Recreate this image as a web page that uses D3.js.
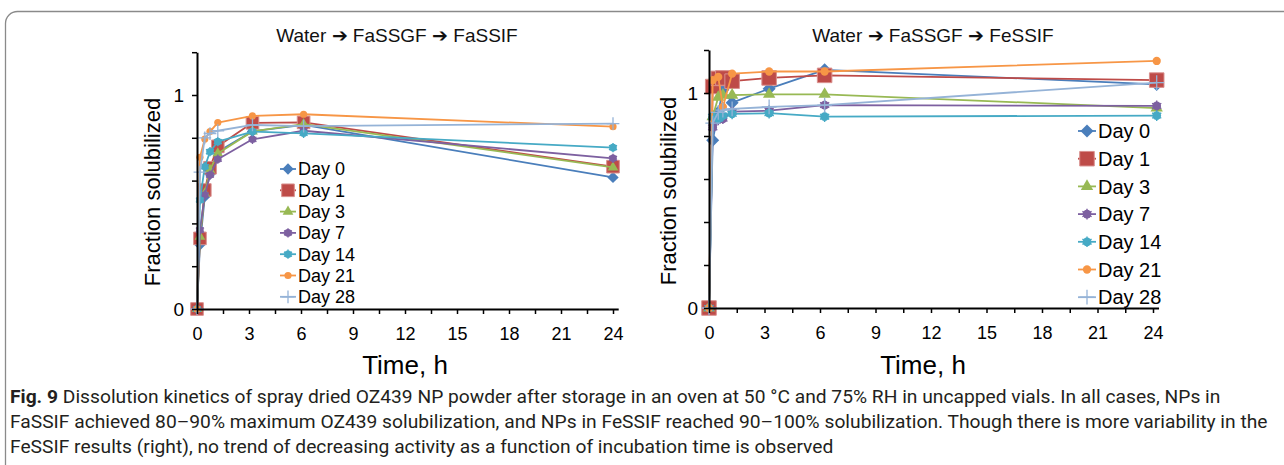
<!DOCTYPE html>
<html>
<head>
<meta charset="utf-8">
<script src="https://cdn.jsdelivr.net/npm/d3@7"></script>
<style>
  body { margin: 0; background: #fff; }
  svg { display: block; }
</style>
</head>
<body>
<div id="wrapper"></div>
<script>
// data
const dayLabels = ["Day 0", "Day 1", "Day 3", "Day 7", "Day 14", "Day 21", "Day 28"]

// sampling times (h) for each panel
const fassifTimes = [0, 0.17, 0.45, 0.75, 1.2, 3.2, 6.15, 24]
const fessifTimes = [0, 0.2, 0.5, 0.75, 1.25, 3.25, 6.25, 24.2]

// fraction solubilized, one row per day (same order as dayLabels)
const fassifValues = [
  [0, 0.30, 0.525, 0.63, 0.735, 0.83, 0.86, 0.615],
  [0, 0.33, 0.556, 0.66, 0.76, 0.87, 0.872, 0.665],
  [0, 0.338, 0.54, 0.65, 0.727, 0.83, 0.864, 0.662],
  [0, 0.369, 0.533, 0.626, 0.70, 0.793, 0.833, 0.704],
  [0, 0.509, 0.665, 0.735, 0.782, 0.829, 0.821, 0.754],
  [0, 0.709, 0.794, 0.829, 0.871, 0.902, 0.91, 0.852],
  [0, 0.64, 0.80, 0.82, 0.833, 0.86, 0.855, 0.866],
]
const fessifValues = [
  [0, 0.78, 0.91, 1.015, 0.955, 1.02, 1.108, 1.04],
  [0, 1.03, 1.068, 1.07, 1.055, 1.07, 1.082, 1.06],
  [0, 0.89, 0.98, 0.99, 0.99, 0.994, 0.994, 0.93],
  [0, 0.84, 0.875, 0.88, 0.913, 0.918, 0.944, 0.94],
  [0, 0.89, 0.88, 0.895, 0.903, 0.906, 0.89, 0.895],
  [0, 1.06, 1.075, 0.935, 1.09, 1.10, 1.10, 1.149],
  [0, 0.86, 0.91, 0.92, 0.926, 0.935, 0.944, 1.048],
]

const xTickValues = d3.range(0, 24.01, 1.5)
const yTickValues = d3.range(0, 7).map(i => i * 0.2)

const panelTitles = ["Water \u2794 FaSSGF \u2794 FaSSIF", "Water \u2794 FaSSGF \u2794 FeSSIF"]
const xTitle = "Time, h"
const yTitle = "Fraction solubilized"

const captionBold = "Fig. 9"
const captionLines = [
  "Dissolution kinetics of spray dried OZ439 NP powder after storage in an oven at 50 \u00b0C and 75% RH in uncapped vials. In all cases, NPs in",
  "FaSSIF achieved 80\u201390% maximum OZ439 solubilization, and NPs in FeSSIF reached 90\u2013100% solubilization. Though there is more variability in the",
  "FeSSIF results (right), no trend of decreasing activity as a function of incubation time is observed",
]

// styles
const colors = ["#4a7ebb", "#be4b48", "#98b954", "#7d60a0", "#46aac5", "#f79646", "#95b3d7"]
const shapes = ["diamond", "square", "triangle", "starCircle", "starCircle", "circle", "plus"]
const chartFont = "'Liberation Sans', Arial, sans-serif"

const width = 1284
const height = 465

const svg = d3.select("#wrapper")
  .append("svg")
    .attr("width", width)
    .attr("height", height)

// framing box (runs off the right/bottom edge)
svg.append("rect")
  .attr("x", 5.5).attr("y", 11.5)
  .attr("width", 1400).attr("height", 600)
  .attr("rx", 12)
  .attr("fill", "none")
  .attr("stroke", "#8a8a8a")
  .attr("stroke-width", 1.3)

function drawMarker(g, shape, k, color) {
  if (shape === "diamond") {
    g.append("path")
      .attr("d", d3.symbol(d3.symbolSquare, 64 * k * k)())
      .attr("transform", "rotate(45)")
      .attr("fill", color)
  } else if (shape === "square") {
    g.append("path")
      .attr("d", d3.symbol(d3.symbolSquare, 160 * k * k)())
      .attr("fill", color)
      .attr("stroke", "#d9908e")
      .attr("stroke-width", 1)
  } else if (shape === "triangle") {
    g.append("path")
      .attr("d", d3.symbol(d3.symbolTriangle, 50 * k * k)())
      .attr("fill", color)
  } else if (shape === "starCircle") {
    g.append("circle").attr("r", 3.8 * k).attr("fill", color)
    g.append("path")
      .attr("d", d3.symbol(d3.symbolAsterisk, 60 * k * k)())
      .attr("fill", "none")
      .attr("stroke", color)
      .attr("stroke-width", 1.4)
  } else if (shape === "circle") {
    g.append("circle").attr("r", 3.6 * k).attr("fill", color)
  } else if (shape === "plus") {
    g.append("path")
      .attr("d", d3.symbol(d3.symbolPlus, 55 * k * k)())
      .attr("fill", "none")
      .attr("stroke", color)
      .attr("stroke-width", 1.3)
  }
}

function drawPanel(p) {
  const xScale = d3.scaleLinear()
    .domain([0, 24.3])
    .range([p.left, p.left + p.perHour * 24.3])
  const yScale = d3.scaleLinear()
    .domain([0, 1.2])
    .range([p.bottom, p.bottom - p.perUnit * 1.2])

  const bounds = svg.append("g")

  // series lines then markers, in day order
  const lineGen = d3.line()
    .x((d, i) => xScale(p.times[i]))
    .y(d => yScale(d))

  p.values.forEach((row, s) => {
    bounds.append("path")
      .attr("d", lineGen(row))
      .attr("fill", "none")
      .attr("stroke", colors[s])
      .attr("stroke-width", 1.8)
      .attr("stroke-linejoin", "round")
    row.forEach((v, i) => {
      const m = bounds.append("g")
        .attr("transform", `translate(${xScale(p.times[i])},${yScale(v)})`)
      drawMarker(m, shapes[s], p.markerK, colors[s])
    })
  })

  // axes
  const xAxisGenerator = d3.axisBottom(xScale)
    .tickValues(xTickValues)
    .tickSizeInner(5)
    .tickSizeOuter(0)
    .tickPadding(13)
    .tickFormat(d => d % 3 === 0 ? d : "")
  const xAxis = bounds.append("g")
    .attr("transform", `translate(0,${p.bottom})`)
    .call(xAxisGenerator)
    .attr("font-size", 18)
    .attr("font-family", chartFont)
    .style("color", "#000")
  xAxis.select(".domain").attr("stroke-width", 2)
  xAxis.selectAll(".tick line").attr("stroke-width", 1.5)

  const yAxisGenerator = d3.axisLeft(yScale)
    .tickValues(yTickValues)
    .tickSizeInner(5)
    .tickSizeOuter(0)
    .tickPadding(p.yPad)
    .tickFormat(d => Math.abs(d) < 1e-9 ? "0" : Math.abs(d - 1) < 1e-9 ? "1" : "")
  const yAxis = bounds.append("g")
    .attr("transform", `translate(${p.left},0)`)
    .call(yAxisGenerator)
    .attr("font-size", 19)
    .attr("font-family", chartFont)
    .style("color", "#000")
  yAxis.select(".domain").attr("stroke-width", 2)
  yAxis.selectAll(".tick line").attr("stroke-width", 1.5)

  // titles
  svg.append("text")
    .attr("x", p.titleX).attr("y", 42)
    .attr("text-anchor", "middle")
    .attr("font-family", chartFont)
    .attr("font-size", 19)
    .attr("fill", "#111")
    .text(p.title)

  svg.append("text")
    .attr("x", p.xTitleX).attr("y", 374)
    .attr("text-anchor", "middle")
    .attr("font-family", chartFont)
    .attr("font-size", 26)
    .attr("fill", "#000")
    .text(xTitle)

  svg.append("text")
    .attr("transform", `translate(${p.yTitleX},${p.yTitleY}) rotate(-90)`)
    .attr("text-anchor", "middle")
    .attr("font-family", chartFont)
    .attr("font-size", 22)
    .attr("fill", "#000")
    .text(yTitle)

  // legend
  const legend = svg.append("g")
  dayLabels.forEach((label, s) => {
    const ly = p.legendY + p.legendStep * s
    legend.append("line")
      .attr("x1", p.legendX).attr("x2", p.legendX + p.legendLine)
      .attr("y1", ly).attr("y2", ly)
      .attr("stroke", colors[s])
      .attr("stroke-width", 1.8)
    const m = legend.append("g")
      .attr("transform", `translate(${p.legendX + p.legendLine / 2},${ly})`)
    drawMarker(m, shapes[s], p.markerK, colors[s])
    legend.append("text")
      .attr("x", p.legendX + p.legendLine + 2)
      .attr("y", ly)
      .attr("dy", "0.36em")
      .attr("font-family", chartFont)
      .attr("font-size", p.legendFont)
      .attr("fill", "#000")
      .text(label)
  })
}

drawPanel({
  times: fassifTimes, values: fassifValues, title: panelTitles[0],
  left: 197, perHour: 416 / 24, bottom: 309, perUnit: 214,
  yPad: 8, markerK: 1,
  titleX: 397, xTitleX: 405, yTitleX: 160, yTitleY: 192,
  legendX: 280, legendLine: 16, legendY: 169, legendStep: 21.3, legendFont: 18,
})

drawPanel({
  times: fessifTimes, values: fessifValues, title: panelTitles[1],
  left: 709, perHour: 444 / 24, bottom: 308, perUnit: 215,
  yPad: 6, markerK: 1.15,
  titleX: 933, xTitleX: 923, yTitleX: 676, yTitleY: 191,
  legendX: 1078, legendLine: 18, legendY: 131, legendStep: 27.7, legendFont: 20,
})

// caption, condensed to the figure width
const caption = svg.append("g")
const capFont = "Roboto, 'Liberation Sans', sans-serif"
const capSize = 19
const capLine1 = caption.append("text")
  .attr("x", 0).attr("y", 403)
  .attr("font-family", capFont).attr("font-size", capSize).attr("fill", "#231f20")
capLine1.append("tspan").attr("font-weight", "bold").text(captionBold)
capLine1.append("tspan").text("  " + captionLines[0])
const capLine2 = caption.append("text")
  .attr("x", 0).attr("y", 428)
  .attr("font-family", capFont).attr("font-size", capSize).attr("fill", "#231f20")
  .text(captionLines[1])
caption.append("text")
  .attr("x", 0).attr("y", 453)
  .attr("font-family", capFont).attr("font-size", capSize).attr("fill", "#231f20")
  .text(captionLines[2])

const naturalWidth = capLine2.node().getComputedTextLength()
caption.attr("transform", `translate(10,0) scale(${1258 / naturalWidth},1)`)
</script>
</body>
</html>
